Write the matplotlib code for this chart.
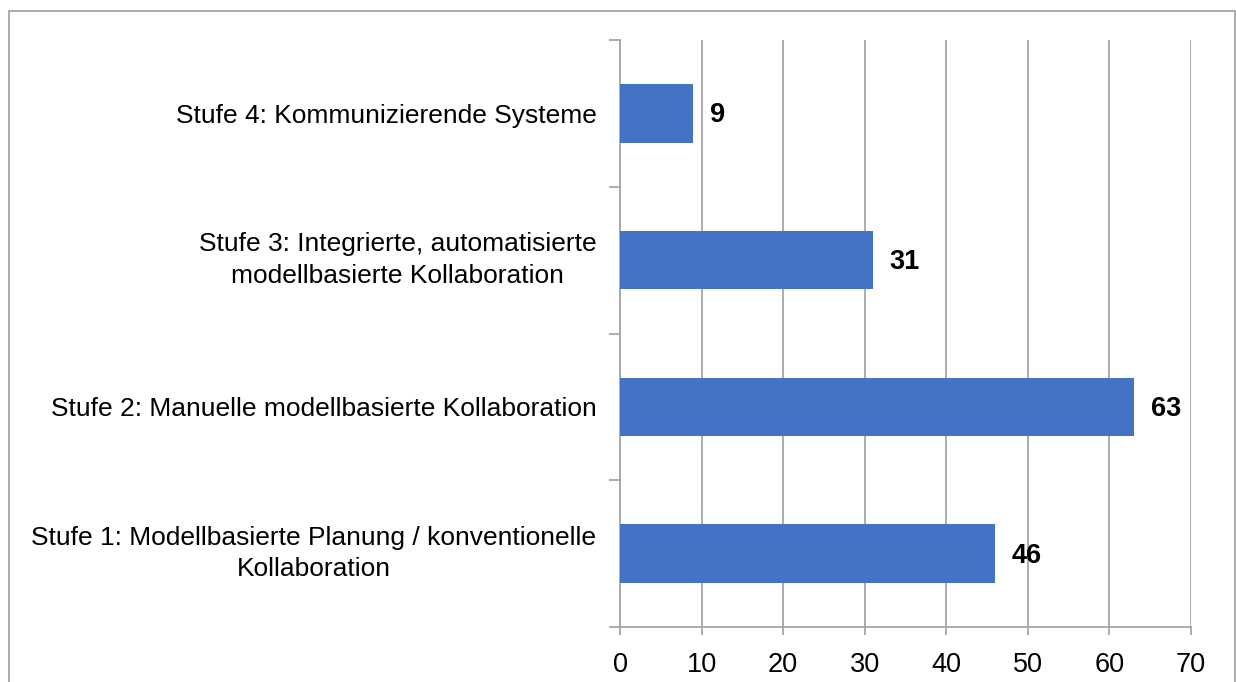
import numpy as np
import matplotlib
matplotlib.use('Agg')
import matplotlib.pyplot as plt
from matplotlib.patches import Rectangle

plt.rcParams['font.family'] = ['Liberation Sans', 'DejaVu Sans']

stufen = [
    "Stufe 1: Modellbasierte Planung / konventionelle\nKollaboration",
    "Stufe 2: Manuelle modellbasierte Kollaboration",
    "Stufe 3: Integrierte, automatisierte\nmodellbasierte Kollaboration",
    "Stufe 4: Kommunizierende Systeme",
]
werte = [46, 63, 31, 9]
x_ticks = [0, 10, 20, 30, 40, 50, 60, 70]

bar_color = "#4472C4"
line_color = "#A6A6A6"

W, H = 1236, 682
fig = plt.figure(figsize=(W / 100, H / 100), dpi=100)
ax = fig.add_axes([620 / W, 1 - 627 / H, 571 / W, 587 / H])

# frame around the whole chart area
fig.patches.append(Rectangle((8.5 / W, -0.1), (1234.5 - 8.5) / W, 1.1 - 10.5 / H,
                             transform=fig.transFigure, fill=False,
                             edgecolor=line_color, linewidth=1.3))

y = np.arange(len(werte))
ax.barh(y, werte, height=0.4, color=bar_color, zorder=3)

for yi, v in zip(y, werte):
    ax.annotate(str(v), (v, yi), xytext=(12, -1.5), textcoords='offset points',
                va='center', ha='left', fontsize=19.5, fontweight='bold', zorder=4)

ax.set_xlim(0, 70)
ax.set_ylim(-0.5, len(werte) - 0.5)
ax.set_xticks(x_ticks)
ax.set_xticklabels([str(t) for t in x_ticks], fontsize=19.5)
ax.xaxis.grid(True, color=line_color, linewidth=1.3, zorder=0)

ax.set_yticks(np.arange(-0.5, len(werte), 1.0))
ax.set_yticklabels([])
ax.set_yticks(y, minor=True)
labels = ax.set_yticklabels(stufen, minor=True, fontsize=19, ha='right',
                            multialignment='center', linespacing=1.4)
# two-line labels are centred on their whole block
for lab in labels:
    if "\n" in lab.get_text():
        lab.set_va('center')
ax.tick_params(axis='y', which='minor', length=0, pad=17)
ax.tick_params(axis='y', which='major', length=8, width=1.3, color=line_color)
ax.tick_params(axis='x', length=6, width=1.3, color=line_color, pad=12)

for s in ['top', 'right']:
    ax.spines[s].set_visible(False)
for s in ['left', 'bottom']:
    ax.spines[s].set_color(line_color)
    ax.spines[s].set_linewidth(1.3)

fig.savefig("out.png", dpi=100)
plt.close(fig)
